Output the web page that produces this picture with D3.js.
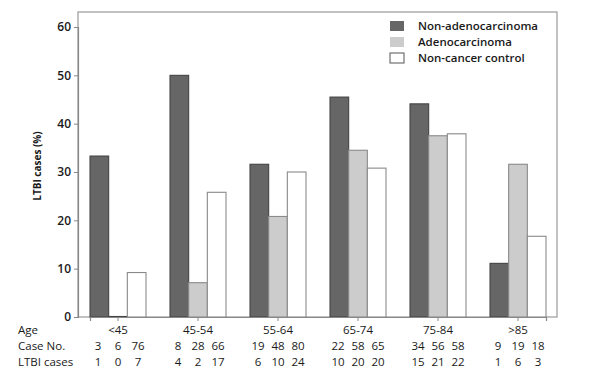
<!DOCTYPE html>
<html>
<head>
<meta charset="utf-8">
<script src="https://cdn.jsdelivr.net/npm/d3@7"></script>
<style>
  body { margin: 0; background: #fff; }
  text { font-family: "Open Sans", "Noto Sans", sans-serif; fill: #1a1a1a; }
</style>
</head>
<body>
<svg id="chart" width="594" height="371"></svg>
<script>
// age groups and the three series (LTBI cases, %)
var ages = ["<45", "45-54", "55-64", "65-74", "75-84", ">85"];
var seriesNames = ["Non-adenocarcinoma", "Adenocarcinoma", "Non-cancer control"];
var nonAdeno = [33.3, 50.0, 31.6, 45.5, 44.1, 11.1];
var adeno = [0, 7.1, 20.8, 34.5, 37.5, 31.6];
var control = [9.2, 25.8, 30.0, 30.8, 37.9, 16.7];
var caseNo = [[3, 6, 76], [8, 28, 66], [19, 48, 80], [22, 58, 65], [34, 56, 58], [9, 19, 18]];
var ltbiCases = [[1, 0, 7], [4, 2, 17], [6, 10, 24], [10, 20, 20], [15, 21, 22], [1, 6, 3]];
var yTicks = [0, 10, 20, 30, 40, 50, 60];

var fills = ["#666666", "#cccccc", "#ffffff"];
var strokes = ["#444444", "#8a8a8a", "#8a8a8a"];

var svg = d3.select("#chart");
var frame = {left: 78, top: 12, right: 557, bottom: 317};

var y = d3.scaleLinear().domain([0, 60]).range([frame.bottom, 27]);
var x = d3.scaleBand().domain(ages).range([90, 546]).paddingInner(0.3).paddingOuter(0);
var xs = d3.scaleBand().domain(d3.range(3)).range([0, x.bandwidth()]);

// frame box
svg.append("rect")
  .attr("x", frame.left).attr("y", frame.top)
  .attr("width", frame.right - frame.left).attr("height", frame.bottom - frame.top)
  .attr("fill", "none").attr("stroke", "#999").attr("stroke-width", 1.2);

// bars (zero values still show as a thin line)
var data = [nonAdeno, adeno, control];
ages.forEach(function(a, i) {
  data.forEach(function(s, j) {
    var h = Math.max(frame.bottom - y(s[i]), 0.5);
    svg.append("rect")
      .attr("x", x(a) + xs(j))
      .attr("y", frame.bottom - h)
      .attr("width", xs.bandwidth())
      .attr("height", h)
      .attr("fill", fills[j])
      .attr("stroke", s[i] === 0 ? "#444" : strokes[j])
      .attr("stroke-width", 1.1);
  });
});

// y axis
var yAxis = svg.append("g")
  .attr("transform", "translate(" + frame.left + ",0)")
  .call(d3.axisLeft(y).tickValues(yTicks).tickSize(4).tickPadding(3));
yAxis.select(".domain").attr("stroke", "#888").attr("stroke-width", 1.2);
yAxis.selectAll(".tick line").attr("stroke", "#888");
yAxis.selectAll("text")
  .style("font-family", "'Open Sans', sans-serif")
  .style("font-size", "12px").style("font-weight", "600").attr("fill", "#1a1a1a");

// x axis ticks
var xAxis = svg.append("g")
  .attr("transform", "translate(0," + frame.bottom + ")")
  .call(d3.axisBottom(x).tickSize(4).tickFormat(""));
xAxis.select(".domain").attr("stroke", "#888").attr("stroke-width", 1.2);
xAxis.selectAll(".tick line").attr("stroke", "#888");

// y label
svg.append("text")
  .attr("transform", "translate(41,166) rotate(-90)")
  .attr("text-anchor", "middle")
  .style("font-size", "10px").style("font-weight", "700")
  .text("LTBI cases (%)");

// bottom table
var rows = [{label: "Age", y: 334}, {label: "Case No.", y: 350}, {label: "LTBI cases", y: 366}];
rows.forEach(function(r) {
  svg.append("text").attr("x", 18).attr("y", r.y)
    .style("font-size", "11.5px").style("font-weight", "500").text(r.label);
});
ages.forEach(function(a, i) {
  var cx = x(a) + x.bandwidth() / 2;
  svg.append("text").attr("x", cx).attr("y", rows[0].y)
    .attr("text-anchor", "middle").style("font-size", "11.5px").style("font-weight", "500").text(a);
  [-20, 0, 20].forEach(function(dx, j) {
    svg.append("text").attr("x", cx + dx).attr("y", rows[1].y)
      .attr("text-anchor", "middle").style("font-size", "11.5px").style("font-weight", "500")
      .text(caseNo[i][j]);
    svg.append("text").attr("x", cx + dx).attr("y", rows[2].y)
      .attr("text-anchor", "middle").style("font-size", "11.5px").style("font-weight", "500")
      .text(ltbiCases[i][j]);
  });
});

// legend
var legend = svg.append("g").attr("transform", "translate(390,21)");
seriesNames.forEach(function(n, j) {
  legend.append("rect")
    .attr("x", 0).attr("y", j * 16)
    .attr("width", 14).attr("height", 10)
    .attr("fill", fills[j]).attr("stroke", j === 2 ? "#555" : "none");
  legend.append("text")
    .attr("x", 28).attr("y", j * 16 + 9)
    .style("font-size", "11.5px").style("font-weight", "600")
    .text(n);
});
</script>
</body>
</html>
